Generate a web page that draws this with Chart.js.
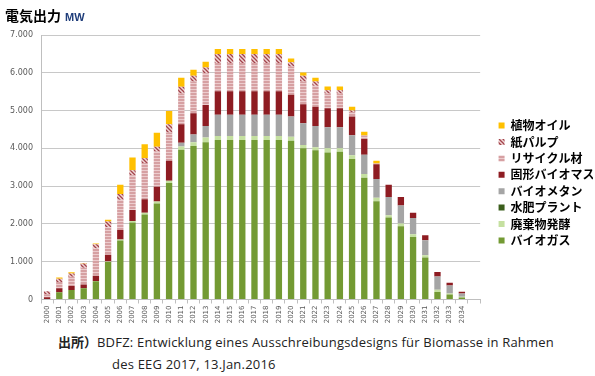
<!DOCTYPE html>
<html>
<head>
<meta charset="utf-8">
<script src="https://cdn.jsdelivr.net/npm/chart.js@4.4.1/dist/chart.umd.min.js"></script>
<style>
  body { margin: 0; background: #fff; }
  #page { position: relative; width: 595px; height: 376px; overflow: hidden; font-family: "Noto Sans CJK JP", sans-serif; }
  #box { position: absolute; left: 0; top: 0; width: 595px; height: 331px; }
  #ttl { position: absolute; left: 5px; top: 5px; font-size: 14px; font-weight: bold; color: #000; }
  #ttl span { font-family: "Liberation Sans", sans-serif; font-size: 11px; font-weight: bold; color: #1f3d7a; margin-left: 4px; }
  #src { position: absolute; left: 58px; top: 331px; font-size: 13px; color: #222; line-height: 21px; white-space: nowrap; }
  #src b { font-family: "Noto Sans CJK JP"; font-weight: bold; }
  #src .l2 { padding-left: 54px; }
  #src .t { font-family: "Open Sans", sans-serif; letter-spacing: 0.2px; }
</style>
</head>
<body>
<div id="page">
  <div id="box"><canvas id="myChart"></canvas></div>
  <div id="ttl">電気出力<span>MW</span></div>
  <div id="src"><b>出所）</b><span class="t">BDFZ: Entwicklung eines Ausschreibungsdesigns für Biomasse in Rahmen</span><br><span class="t l2">des EEG 2017, 13.Jan.2016</span></div>
</div>
<script>
var years = ['2000','2001','2002','2003','2004','2005','2006','2007','2008','2009',
             '2010','2011','2012','2013','2014','2015','2016','2017','2018','2019',
             '2020','2021','2022','2023','2024','2025','2026','2027','2028','2029',
             '2030','2031','2032','2033','2034',''];

var biogas     = [10,195,250,300,480,990,1560,2040,2250,2540,3080,3960,4060,4160,4220,4220,4220,4220,4220,4220,4200,4000,3950,3890,3910,3720,3220,2600,2170,1940,1655,1110,200,130,50,0];
var ferment    = [0,0,0,0,10,15,30,40,45,55,60,90,100,130,110,110,110,110,110,110,110,90,80,110,90,100,100,90,60,70,70,60,60,30,20,0];
var manure     = [0,0,0,0,0,0,0,0,0,0,0,0,0,0,0,0,0,0,0,0,0,0,0,0,0,0,0,0,0,0,0,0,0,0,0,0];
var biomethane = [0,0,0,0,0,0,0,0,0,0,0,100,210,300,560,560,560,560,560,560,530,575,560,560,560,530,510,500,480,480,430,400,350,210,90,0];
var solid      = [50,105,110,100,140,180,250,290,355,390,530,490,560,560,620,620,620,620,620,620,576,505,510,500,500,490,420,390,330,220,140,130,120,70,45,0];
var recycled   = [80,160,240,440,720,730,800,920,960,930,750,810,840,840,750,750,750,750,750,750,750,600,560,390,390,120,90,20,0,0,0,0,0,0,0,0];
var pulp       = [80,90,90,110,110,150,155,130,130,130,220,180,150,150,240,240,240,240,240,240,110,150,110,90,90,40,0,0,0,0,0,0,0,0,0,0];
var oil        = [0,30,30,15,20,45,240,340,370,370,350,240,160,150,130,130,130,130,130,130,100,90,100,100,100,100,100,70,0,0,0,0,0,0,0,0];

// hatch fills
function hatch() {
  var c = document.createElement('canvas');
  c.width = 4; c.height = 4;
  var g = c.getContext('2d');
  g.fillStyle = '#f0d6d6'; g.fillRect(0, 0, 4, 4);
  g.strokeStyle = '#a3434b'; g.lineWidth = 1.3;
  g.beginPath();
  g.moveTo(0, 0); g.lineTo(4, 4);
  g.moveTo(-1, 3); g.lineTo(1, 5);
  g.moveTo(3, -1); g.lineTo(5, 1);
  g.stroke();
  return g.createPattern(c, 'repeat');
}
function lines() {
  var c = document.createElement('canvas');
  c.width = 2; c.height = 3;
  var g = c.getContext('2d');
  g.fillStyle = '#d6a0a2'; g.fillRect(0, 0, 2, 3);
  g.fillStyle = '#ecccce'; g.fillRect(0, 2, 2, 1);
  return g.createPattern(c, 'repeat');
}

const data = {
  labels: years,
  datasets: [
    { label: 'バイオガス', data: biogas, backgroundColor: '#739a33' },
    { label: '廃棄物発酵', data: ferment, backgroundColor: '#c5e0a0' },
    { label: '水肥プラント', data: manure, backgroundColor: '#3b5e1c' },
    { label: 'バイオメタン', data: biomethane, backgroundColor: '#a5a5a5' },
    { label: '固形バイオマス', data: solid, backgroundColor: '#8e1c22' },
    { label: 'リサイクル材', data: recycled, backgroundColor: lines() },
    { label: '紙パルプ', data: pulp, backgroundColor: hatch() },
    { label: '植物オイル', data: oil, backgroundColor: '#ffc000' }
  ]
};

const config = {
  type: 'bar',
  data: data,
  options: {
    responsive: true,
    maintainAspectRatio: false,
    animation: false,
    categoryPercentage: 1,
    barPercentage: 0.52,
    layout: { padding: { top: 35, right: 2, left: 0, bottom: 0 } },
    plugins: {
      tooltip: { enabled: false },
      legend: {
        position: 'right',
        reverse: true,
        labels: {
          boxWidth: 6, boxHeight: 6, padding: 4.4,
          color: '#000',
          font: { family: '"Noto Sans CJK JP"', size: 12, weight: 'bold' }
        }
      }
    },
    scales: {
      x: {
        stacked: true,
        afterFit: function (s) { s.height = 31.5; },
        grid: { drawOnChartArea: false, tickLength: 4, color: '#bfbfbf', offset: true },
        border: { color: '#bfbfbf' },
        ticks: {
          autoSkip: false, minRotation: 90, maxRotation: 90, padding: 2,
          color: '#595959', font: { family: 'DejaVu Sans', size: 7 }
        }
      },
      y: {
        stacked: true,
        min: 0, max: 7000,
        afterFit: function (s) { s.width = 41; },
        grid: { color: '#c8c8c8', drawTicks: false },
        border: { color: '#bfbfbf' },
        ticks: {
          stepSize: 1000, padding: 8,
          color: '#595959', font: { family: 'DejaVu Sans', size: 8 },
          callback: function (v) { return v === 0 ? '0' : (v / 1000).toFixed(3); }
        }
      },
      gap: {
        type: 'linear', position: 'right', display: true,
        afterFit: function (s) { s.width = 14; },
        grid: { display: false }, border: { display: false },
        ticks: { display: false }
      }
    }
  }
};

const myChart = new Chart(document.getElementById('myChart'), config);
</script>
</body>
</html>
